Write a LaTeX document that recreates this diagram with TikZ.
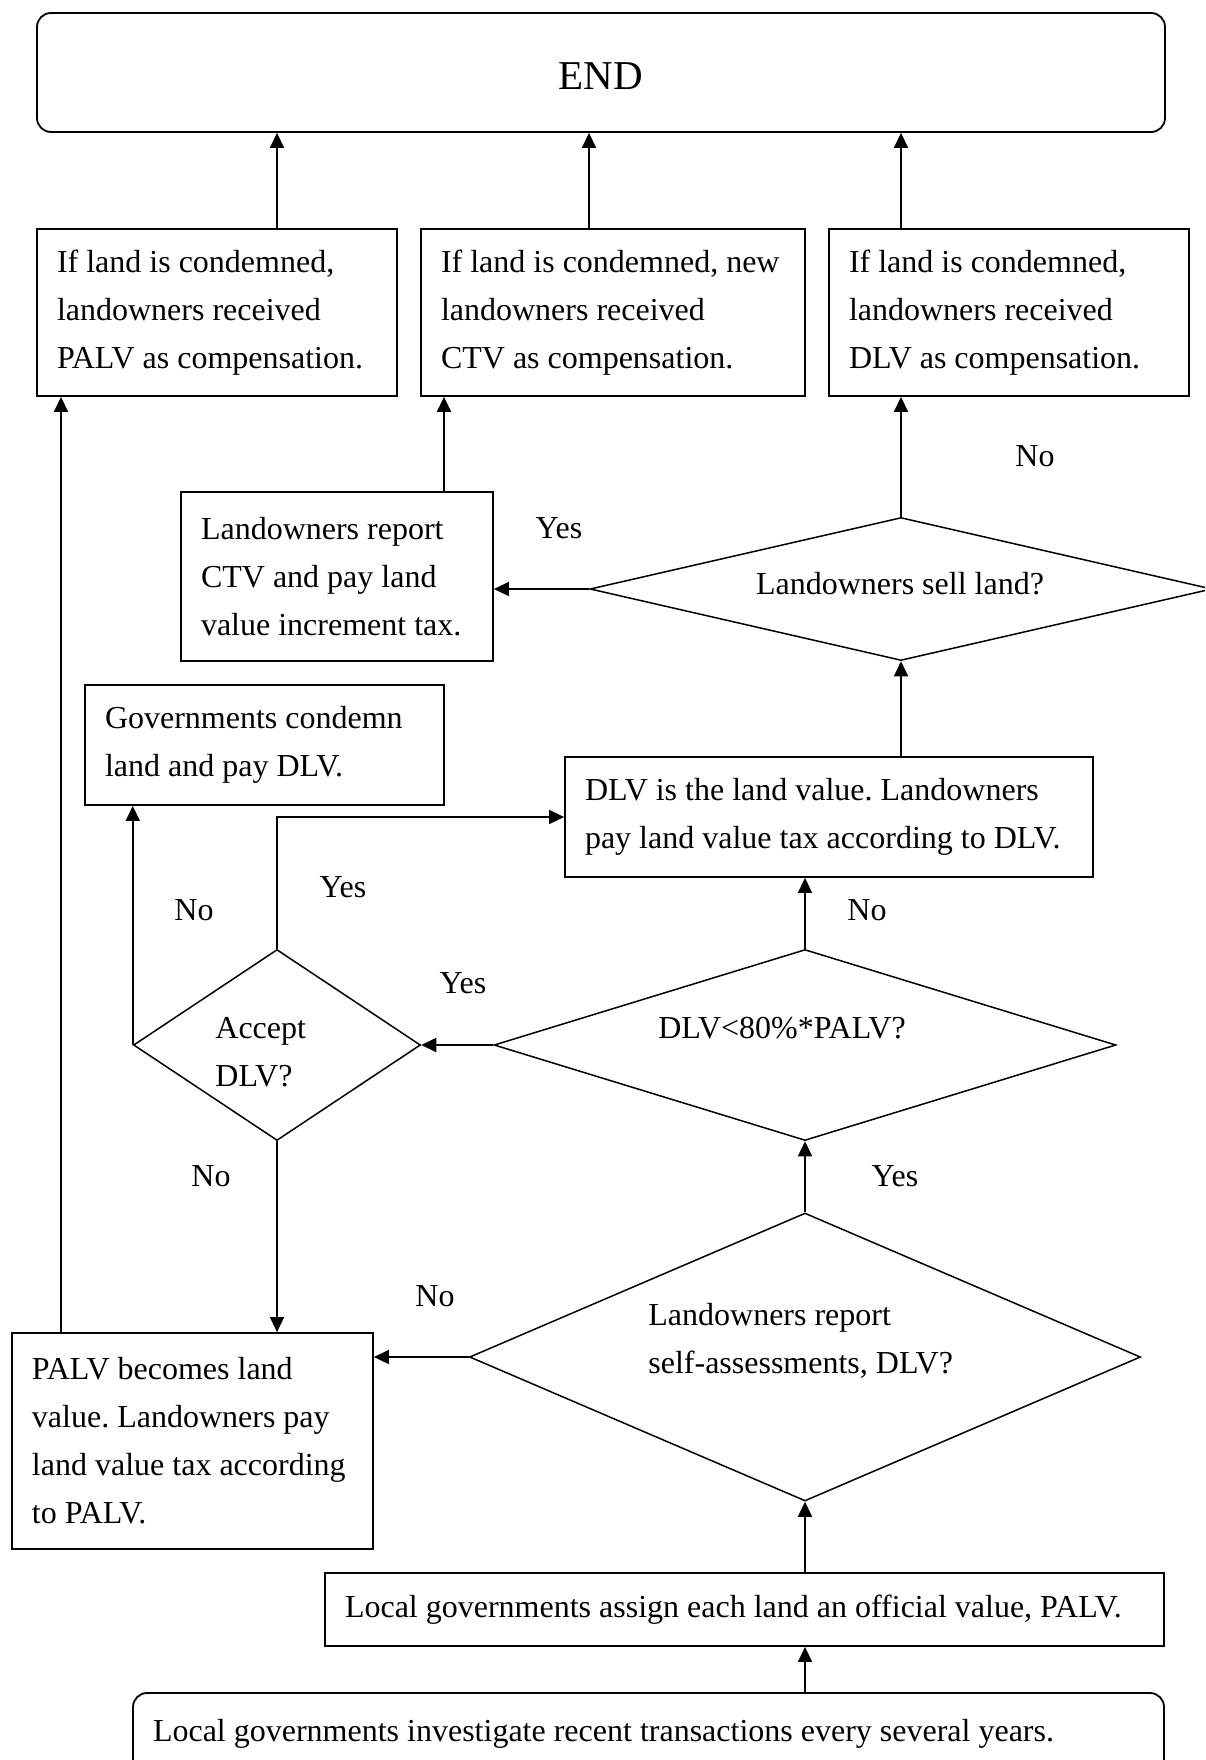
\documentclass[tikz,border=0pt]{standalone}
\usepackage{fontspec}
\setmainfont{Liberation Serif}
\usetikzlibrary{arrows.meta,shapes.geometric}
\begin{document}
\begin{tikzpicture}[x=0.5pt,y=-0.5pt,
  every node/.style={font=\fontsize{16}{24}\selectfont\frenchspacing},
  box/.style={draw, line width=0.9pt, rectangle, inner xsep=10pt, inner ysep=0pt, align=flush left},
  dia/.style={draw, line width=0.75pt, diamond, inner sep=0pt},
  arr/.style={-{Triangle[length=7.5pt,width=7pt]}, line width=0.8pt},
  lbl/.style={inner sep=0pt}]
\clip (0,0) rectangle (1205,1760);
\fill[white] (0,0) rectangle (1205,1760);

% boxes
\node[draw, line width=0.9pt, rounded corners=7pt, minimum width=564pt, minimum height=59.5pt,
      text height=17pt, text depth=0pt,
      font=\fontsize{20.5}{24}\selectfont] (end) at (601,72.5) {END};
\node[box, minimum height=83.5pt, text width=160pt] (a1) at (217,312.5)
  {If land is condemned,\\landowners received\\\mbox{PALV as compensation.}};
\node[box, minimum height=83.5pt, text width=172pt] (a2) at (613,312.5)
  {\mbox{If land is condemned, new}\\landowners received\\CTV as compensation.};
\node[box, minimum height=83.5pt, text width=160pt] (a3) at (1009,312.5)
  {If land is condemned,\\landowners received\\DLV as compensation.};
\node[box, minimum height=84.5pt, text width=136pt] (b) at (337,576.5)
  {Landowners report\\CTV and pay land\\\mbox{value increment tax.}};
\node[box, minimum height=60pt, text width=159.5pt] (c) at (264.5,745)
  {Governments condemn\\land and pay DLV.};
\node[box, minimum height=60pt, text width=244pt] (d) at (829,817)
  {\mbox{DLV is the land value. Landowners}\\\mbox{pay land value tax according to DLV.}};
\node[box, minimum height=108pt, text width=160.5pt] (e) at (192.5,1441)
  {PALV becomes land\\\mbox{value. Landowners pay}\\\mbox{land value tax according}\\to PALV.};
\node[box, minimum height=36.5pt, text width=399.5pt] (f) at (744.5,1609.5)
  {\mbox{Local governments assign each land an official value, PALV.}};
\node[box, rounded corners=7pt, minimum height=41pt, text width=495.5pt] (g) at (648.5,1734)
  {\mbox{Local governments investigate recent transactions every several years.}};

% diamonds
\node[dia, minimum width=311pt, minimum height=71.5pt] (sell) at (901,589) {};
\node[dia, minimum width=143.5pt, minimum height=95.5pt] (acc) at (277,1045) {};
\node[dia, minimum width=311pt, minimum height=95.5pt] (d80) at (805,1045) {};
\node[dia, minimum width=335.5pt, minimum height=144pt] (sa) at (805,1357) {};

\node[lbl] (sellt) at (900,584) {Landowners sell land?};
\node[lbl] (d80t) at (782,1028) {DLV<80\%*PALV?};
\node[lbl, align=flush left, anchor=west] (acct) at (215,1052) {Accept\\DLV?};
\node[lbl, align=flush left, anchor=west] (sat) at (648,1341) {Landowners report\\self-assessments, DLV?};

% labels
\node[lbl] (l1) at (559,528) {Yes};
\node[lbl] (l2) at (1035,456) {No};
\node[lbl] (l3) at (343,887) {Yes};
\node[lbl] (l4) at (194,910) {No};
\node[lbl] (l5) at (867,910) {No};
\node[lbl] (l6) at (463,983) {Yes};
\node[lbl] (l7) at (211,1176) {No};
\node[lbl] (l8) at (895,1176) {Yes};
\node[lbl] (l9) at (435,1296) {No};

% connectors
\draw[arr] (a1.north -| 277,0) -- (end.south -| 277,0);
\draw[arr] (a2.north -| 589,0) -- (end.south -| 589,0);
\draw[arr] (a3.north -| 901,0) -- (end.south -| 901,0);
\draw[arr] (b.north -| 444,0) -- (a2.south -| 444,0);
\draw[arr] (sell.west) -- (sell.west -| b.east);
\draw[arr] (sell.north) -- (sell.north |- a3.south);
\draw[arr] (d.north -| sell.south) -- (sell.south);
\draw[arr] (d80.north) -- (d80.north |- d.south);
\draw[arr] (d80.west) -- (acc.east);
\draw[arr] (acc.north) |- (d.west);
\draw[arr] (acc.west) -- (acc.west |- c.south);
\draw[arr] (acc.south) -- (acc.south |- e.north);
\draw[arr] (e.north -| 61,0) -- (a1.south -| 61,0);
\draw[arr] (sa.west) -- (sa.west -| e.east);
\draw[arr] (sa.north) -- (d80.south);
\draw[arr] (f.north -| sa.south) -- (sa.south);
\draw[arr] (g.north -| sa.south) -- (f.south -| sa.south);
\end{tikzpicture}
\end{document}
